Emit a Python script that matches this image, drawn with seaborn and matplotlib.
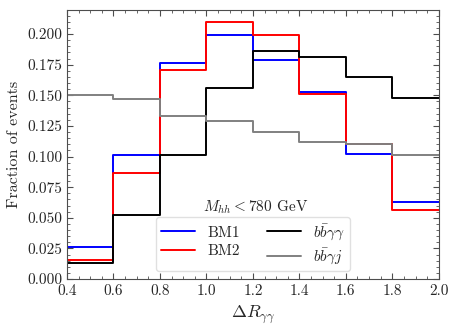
import seaborn as sns
import matplotlib.pyplot as plt
import numpy as np

# bin edges of Delta R_gamma gamma and fractions per bin
bin_edges = [0.4, 0.6, 0.8, 1.0, 1.2, 1.4, 1.6, 1.8, 2.0]
bm1 = [0.026, 0.101, 0.176, 0.199, 0.179, 0.153, 0.102, 0.063]
bm2 = [0.016, 0.087, 0.171, 0.210, 0.199, 0.151, 0.110, 0.056]
bbyy = [0.013, 0.052, 0.101, 0.156, 0.186, 0.181, 0.165, 0.148]
bbyj = [0.150, 0.147, 0.133, 0.129, 0.120, 0.112, 0.110, 0.101]

series = [
    ("BM1", bm1, "blue"),
    ("BM2", bm2, "red"),
    (r"$b\bar{b}\gamma\gamma$", bbyy, "black"),
    (r"$b\bar{b}\gamma j$", bbyj, "gray"),
]

sns.set_style("ticks")
plt.rcParams["font.family"] = "serif"
plt.rcParams["font.serif"] = ["cmr10", "DejaVu Serif"]
plt.rcParams["mathtext.fontset"] = "cm"
plt.rcParams["axes.formatter.use_mathtext"] = True
plt.rcParams["font.size"] = 11

fig = plt.figure(figsize=(4.59, 3.28), dpi=100)
ax = fig.add_axes([0.146, 0.149, 0.81, 0.822])

centers = 0.5 * (np.array(bin_edges[:-1]) + np.array(bin_edges[1:]))
for name, vals, col in series:
    sns.histplot(x=centers, weights=vals, bins=bin_edges, element="step",
                 fill=False, color=col, linewidth=1.4, label=name, ax=ax)

ax.set_xlim(0.4, 2.0)
ax.set_ylim(0, 0.22)
ax.set_xticks(np.arange(0.4, 2.01, 0.2))
ax.set_xticks(np.arange(0.4, 2.001, 0.05), minor=True)
ax.set_yticks(np.arange(0, 0.201, 0.025))
ax.set_yticks(np.arange(0, 0.2201, 0.005), minor=True)
ax.xaxis.set_major_formatter(plt.FormatStrFormatter("%.1f"))
ax.yaxis.set_major_formatter(plt.FormatStrFormatter("%.3f"))
ax.tick_params(which="both", direction="in", top=True, right=True, color="0.3")
ax.tick_params(which="major", length=4)
ax.tick_params(which="minor", length=2)
for sp in ax.spines.values():
    sp.set_color("0.3")

ax.set_xlabel(r"$\Delta R_{\gamma\gamma}$", fontsize=13)
ax.set_ylabel("Fraction of events", fontsize=11.5)

ax.text(1.21, 0.059, r"$M_{hh} < 780$ GeV", ha="center", va="center", fontsize=11)
ax.legend(loc="lower center", bbox_to_anchor=(0.5, 0.0), ncol=2,
          fontsize=11, handlelength=2.2, columnspacing=1.8, labelspacing=0.3,
          borderpad=0.35, edgecolor="0.85")

plt.savefig("out.png", dpi=100)
